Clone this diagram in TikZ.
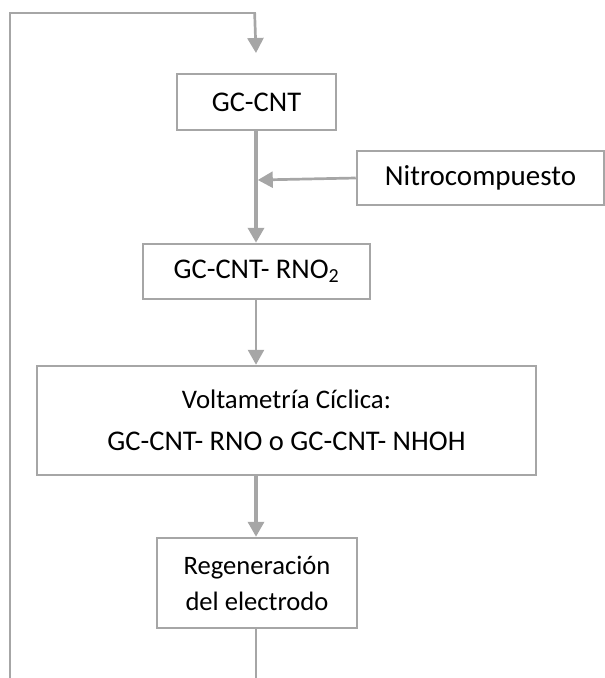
\documentclass[tikz,border=0pt]{standalone}
\usepackage{fontspec}
\setmainfont{Carlito}
\usetikzlibrary{arrows.meta}
\definecolor{linegray}{RGB}{166,166,166}
\tikzset{
  stepbox/.style={draw=linegray, line width=2.5pt, rectangle, inner sep=0pt, align=center,
    font=\fontsize{28.5}{34}\selectfont},
  flow/.style={draw=linegray, line width=3.4pt, -{Triangle[length=15pt,width=16pt]}},
  thinflow/.style={draw=linegray, line width=2.7pt, -{Triangle[length=15pt,width=16pt]}},
  plainline/.style={draw=linegray, line width=2.7pt}
}
\begin{document}
\begin{tikzpicture}[x=1pt, y=-1pt]
\useasboundingbox (0,0) rectangle (605,678);
\clip (0,0) rectangle (605,678);

\node[stepbox, minimum width=159pt, minimum height=56pt] (gc) at (256.5,102) {GC-CNT};
\node[stepbox, minimum width=247pt, minimum height=54pt, font=\fontsize{29}{34}\selectfont] (nitro) at (480.5,178) {Nitrocompuesto};
\node[stepbox, minimum width=227pt, minimum height=55pt] (rno) at (256.5,271.5) {GC-CNT- RNO\textsubscript{2}};
\node[stepbox, minimum width=499pt, minimum height=109pt] (volt) at (286.5,420.5)
  {{\fontsize{26.8}{43}\selectfont Voltametría Cíclica:}\\[8pt]GC-CNT- RNO o GC-CNT- NHOH};
\node[stepbox, minimum width=200pt, minimum height=90pt, font=\fontsize{26.6}{36}\selectfont] (regen) at (257,583)
  {Regeneración\\del electrodo};

\coordinate (join) at (256,180);
\coordinate (enter) at (256,53);
\coordinate (bot) at (256,700);
\coordinate (botleft) at (10,700);
\coordinate (topleft) at (10,13);
\coordinate (topmid) at (256,13);

\draw[plainline, line width=3.6pt] (gc.south -| join) -- (join);
\draw[flow, line width=3.6pt] (join) -- (rno.north -| join);
\draw[thinflow] (nitro.west) -- ([xshift=1.8pt]join);
\draw[thinflow] (rno.south -| join) -- (volt.north -| join);
\draw[flow] (volt.south -| join) -- (regen.north -| join);
\draw[plainline, line join=miter] (regen.south -| join) -- (bot) -- (botleft) -- (topleft) -- (topmid);
\draw[thinflow] ([xshift=-1.35pt]topmid) -- (enter);
\end{tikzpicture}
\end{document}
